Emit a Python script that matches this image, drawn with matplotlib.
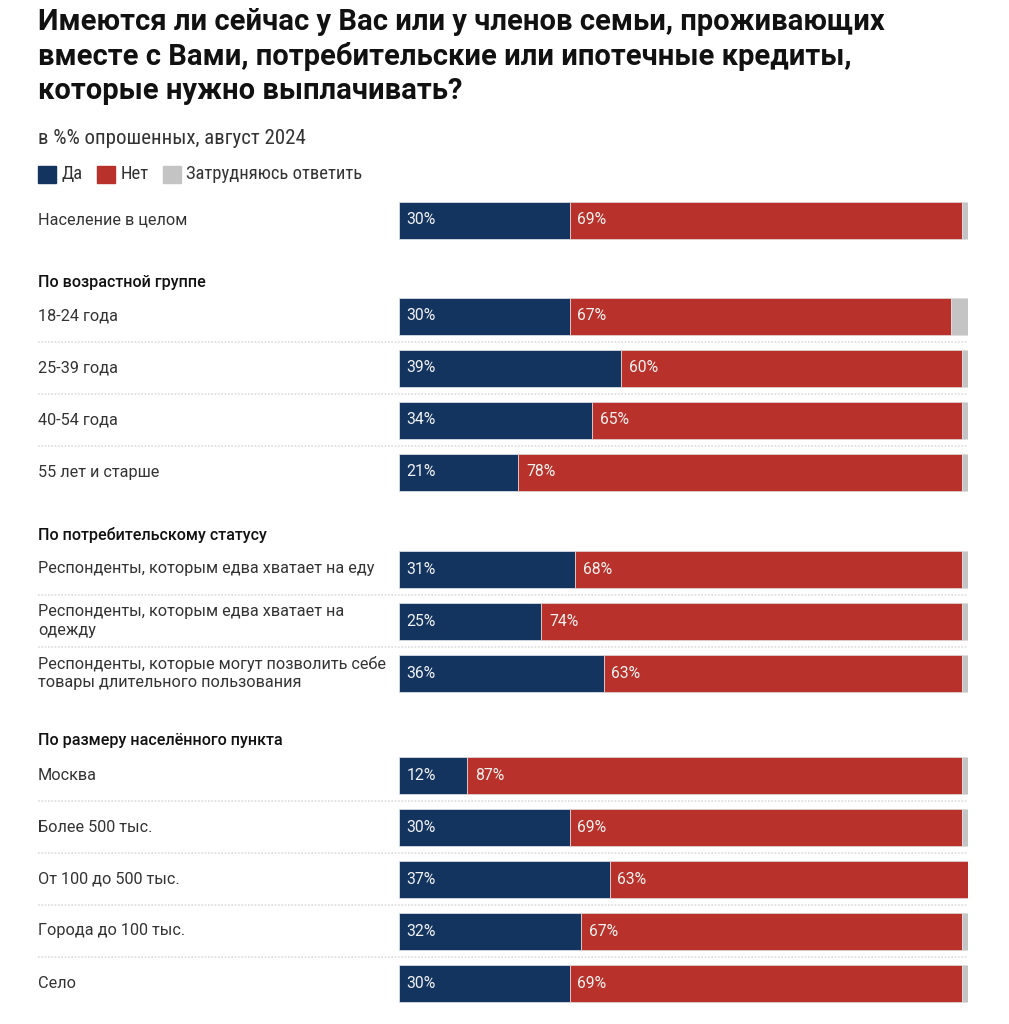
import numpy as np
import matplotlib
matplotlib.use("Agg")
from matplotlib import pyplot as plt
from matplotlib import font_manager as fm
from matplotlib.patches import Rectangle
import matplotlib.transforms as mtransforms

# данные
labels = [
    "Население в целом",
    "18-24 года", "25-39 года", "40-54 года", "55 лет и старше",
    "Респонденты, которым едва хватает на еду",
    "Респонденты, которым едва хватает на\nодежду",
    "Респонденты, которые могут позволить себе\nтовары длительного пользования",
    "Москва", "Более 500 тыс.", "От 100 до 500 тыс.", "Города до 100 тыс.", "Село",
]
da = [30, 30, 39, 34, 21, 31, 25, 36, 12, 30, 37, 32, 30]
net = [69, 67, 60, 65, 78, 68, 74, 63, 87, 69, 63, 67, 69]
zatr = [100 - a - b for a, b in zip(da, net)]
groups = ["По возрастной группе", "По потребительскому статусу", "По размеру населённого пункта"]

# раскладка (пиксели)
row_y = [220, 316, 368, 420, 472, 569, 621, 673, 775, 827, 879, 931, 983]
head_y = [282, 535, 741]
sep_y = [342, 394, 446, 595, 647, 801, 853, 905, 957]

names = {f.name for f in fm.fontManager.ttflist}
narrow = "Roboto"
for cand in ["Roboto Condensed", "Archivo Narrow", "PT Sans Narrow", "Liberation Sans Narrow"]:
    if cand in names:
        narrow = cand
        break
plt.rcParams['font.family'] = ["Roboto", "DejaVu Sans"]

c_da, c_net, c_z = "#12345f", "#b8312a", "#c4c4c4"

W, H = 1009, 1024
fig = plt.figure(figsize=(W / 100, H / 100), dpi=100)
ax = fig.add_axes([399 / W, 0, 569 / W, 1])
ax.set_xlim(0, 100)
ax.set_ylim(H, 0)
ax.axis("off")

bh = 37
ax.barh(row_y, da, height=bh, color=c_da, edgecolor="#d8dce4", lw=0.6)
ax.barh(row_y, net, left=da, height=bh, color=c_net, edgecolor="#e0d0d0", lw=0.6)
ax.barh(row_y, zatr, left=np.add(da, net), height=bh, color=c_z, edgecolor="#dddddd", lw=0.6)

off = mtransforms.offset_copy(ax.transData, fig=fig, x=5.5, y=0, units="points")
for y, a, b in zip(row_y, da, net):
    ax.text(0, y, f"{a}%", transform=off, color="#f2f2f2", fontsize=11.3, va="center", ha="left")
    ax.text(a, y, f"{b}%", transform=off, color="#f2f2f2", fontsize=11.3, va="center", ha="left")

tr = mtransforms.blended_transform_factory(fig.transFigure, ax.transData)
x0 = 38 / W
for y, lab in zip(row_y, labels):
    fig.text(x0, y, lab, transform=tr, fontsize=11.7, color="#333333", va="center",
             ha="left", linespacing=1.3)
for y, g in zip(head_y, groups):
    fig.text(x0, y, g, transform=tr, fontsize=11.6, color="#111111", fontweight="medium",
             va="center", ha="left")
for y in sep_y:
    ax.plot([x0, 968 / W], [y, y], transform=tr, color="#dcdcdc", lw=1.2,
            ls=(0, (1, 1)), clip_on=False)

fig.text(x0, 1 - 8 / H, "Имеются ли сейчас у Вас или у членов семьи, проживающих\n"
         "вместе с Вами, потребительские или ипотечные кредиты,\n"
         "которые нужно выплачивать?", family=["Roboto", "DejaVu Sans"],
         fontsize=21, fontweight="bold", color="#111111", va="top", ha="left",
         linespacing=1.26)
fig.text(x0, 1 - 139 / H, "в %% опрошенных, август 2024", family=[narrow, "DejaVu Sans"],
         fontsize=15, color="#333333", va="center", ha="left")

# легенда
leg = [("Да", c_da), ("Нет", c_net), ("Затрудняюсь ответить", c_z)]
lx = 38
for name, col in leg:
    fig.patches.append(Rectangle((lx / W, 1 - 183 / H), 18 / W, 17 / H, color=col,
                                 transform=fig.transFigure))
    t = fig.text((lx + 23) / W, 1 - 174 / H, name, family=[narrow, "DejaVu Sans"],
                 fontsize=13.4, color="#333333", va="center", ha="left")
    fig.canvas.draw()
    bb = t.get_window_extent()
    lx = bb.x1 + 15

fig.savefig("out.png", dpi=100, facecolor="white")
